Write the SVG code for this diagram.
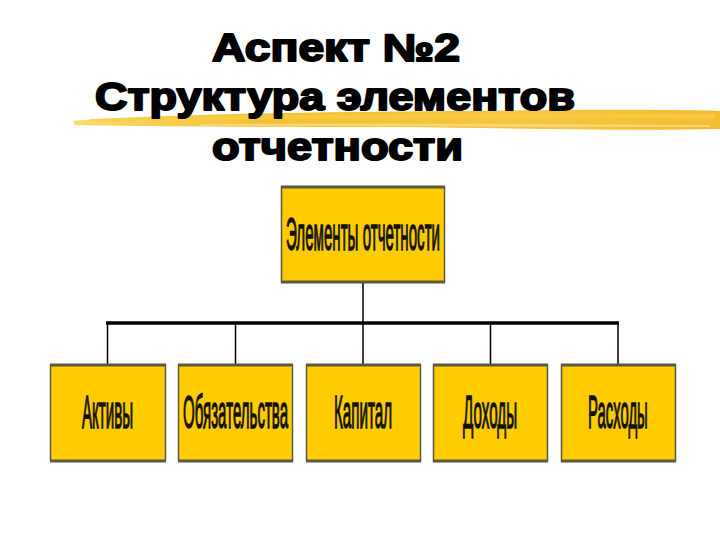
<svg xmlns="http://www.w3.org/2000/svg" width="720" height="540" viewBox="0 0 720 540">
<defs>
<linearGradient id="brush" x1="0" y1="0" x2="1" y2="0">
<stop offset="0" stop-color="#FAD75A"/>
<stop offset="0.3" stop-color="#F3B818"/>
<stop offset="0.7" stop-color="#F5C02A"/>
<stop offset="1" stop-color="#F2B41A"/>
</linearGradient>
<style>
.title{font-family:"Liberation Sans",Arial,sans-serif;font-weight:bold;font-size:38px;fill:#000;stroke:#000;stroke-width:2px;stroke-linejoin:round}
.box{fill:#FFCC00;stroke:#5A5842;stroke-width:1.5}
.edge{stroke:#5A5842;stroke-width:3}
.lbl{font-family:"Liberation Sans",Arial,sans-serif;font-size:46px;fill:#111;stroke:#111;stroke-width:1.4px}
.con{stroke:#000;stroke-width:1.5;fill:none}
.bus{stroke:#000;stroke-width:3.5;fill:none}
</style>
</defs>
<rect width="720" height="540" fill="#fff"/>
<g id="brushstroke">
<path d="M73,121 C150,115 300,112 450,111 C560,110 650,109 720,111 L720,129 C620,131 500,128 400,127 C300,127 180,127 75,125 Z" fill="url(#brush)" opacity="0.9"/>
<path d="M90,119 C250,114 450,113 715,114 L715,119 C450,118 250,119 90,121 Z" fill="#F8CE45" opacity="0.7"/>
<path d="M200,124 C350,123 500,124 710,125 L710,127 C500,127 350,126 200,126 Z" fill="#FBE08A" opacity="0.7"/>
</g>
<g id="title">
<text class="title" x="212" y="61" textLength="248" lengthAdjust="spacingAndGlyphs">Аспект №2</text>
<text class="title" x="95" y="110" textLength="480" lengthAdjust="spacingAndGlyphs">Структура элементов</text>
<text class="title" x="212" y="160" textLength="251" lengthAdjust="spacingAndGlyphs">отчетности</text>
</g>
<g id="connectors">
<line class="con" x1="363" y1="283" x2="363" y2="323"/>
<line class="bus" x1="106" y1="323" x2="619" y2="323"/>
<line class="con" x1="107.5" y1="323" x2="107.5" y2="365"/>
<line class="con" x1="235.5" y1="323" x2="235.5" y2="365"/>
<line class="con" x1="363" y1="323" x2="363" y2="365"/>
<line class="con" x1="490.5" y1="323" x2="490.5" y2="365"/>
<line class="con" x1="618" y1="323" x2="618" y2="365"/>
</g>
<g id="root">
<rect class="box" x="281.5" y="187" width="163" height="95"/>
<line class="edge" x1="281" y1="187" x2="445" y2="187"/>
<line class="edge" x1="281" y1="282" x2="445" y2="282"/>
<text class="lbl" transform="translate(286,250) scale(0.34,1)" textLength="453" lengthAdjust="spacingAndGlyphs">Элементы отчетности</text>
</g>
<g id="aktivy">
<rect class="box" x="50.5" y="365" width="115" height="96"/>
<line class="edge" x1="50" y1="365" x2="166" y2="365"/>
<line class="edge" x1="50" y1="461" x2="166" y2="461"/>
<text class="lbl" transform="translate(82,428) scale(0.34,1)" textLength="150" lengthAdjust="spacingAndGlyphs">Активы</text>
</g>
<g id="obyazatelstva">
<rect class="box" x="178.5" y="365" width="114" height="96"/>
<line class="edge" x1="178" y1="365" x2="293" y2="365"/>
<line class="edge" x1="178" y1="461" x2="293" y2="461"/>
<text class="lbl" transform="translate(183,428) scale(0.34,1)" textLength="309" lengthAdjust="spacingAndGlyphs">Обязательства</text>
</g>
<g id="kapital">
<rect class="box" x="306.5" y="365" width="114" height="96"/>
<line class="edge" x1="306" y1="365" x2="421" y2="365"/>
<line class="edge" x1="306" y1="461" x2="421" y2="461"/>
<text class="lbl" transform="translate(334,428) scale(0.34,1)" textLength="171" lengthAdjust="spacingAndGlyphs">Капитал</text>
</g>
<g id="dohody">
<rect class="box" x="433.5" y="365" width="114" height="96"/>
<line class="edge" x1="433" y1="365" x2="548" y2="365"/>
<line class="edge" x1="433" y1="461" x2="548" y2="461"/>
<text class="lbl" transform="translate(463,428) scale(0.34,1)" textLength="159" lengthAdjust="spacingAndGlyphs">Доходы</text>
</g>
<g id="rashody">
<rect class="box" x="561.5" y="365" width="114" height="96"/>
<line class="edge" x1="561" y1="365" x2="676" y2="365"/>
<line class="edge" x1="561" y1="461" x2="676" y2="461"/>
<text class="lbl" transform="translate(588,428) scale(0.34,1)" textLength="176" lengthAdjust="spacingAndGlyphs">Расходы</text>
</g>
</svg>
